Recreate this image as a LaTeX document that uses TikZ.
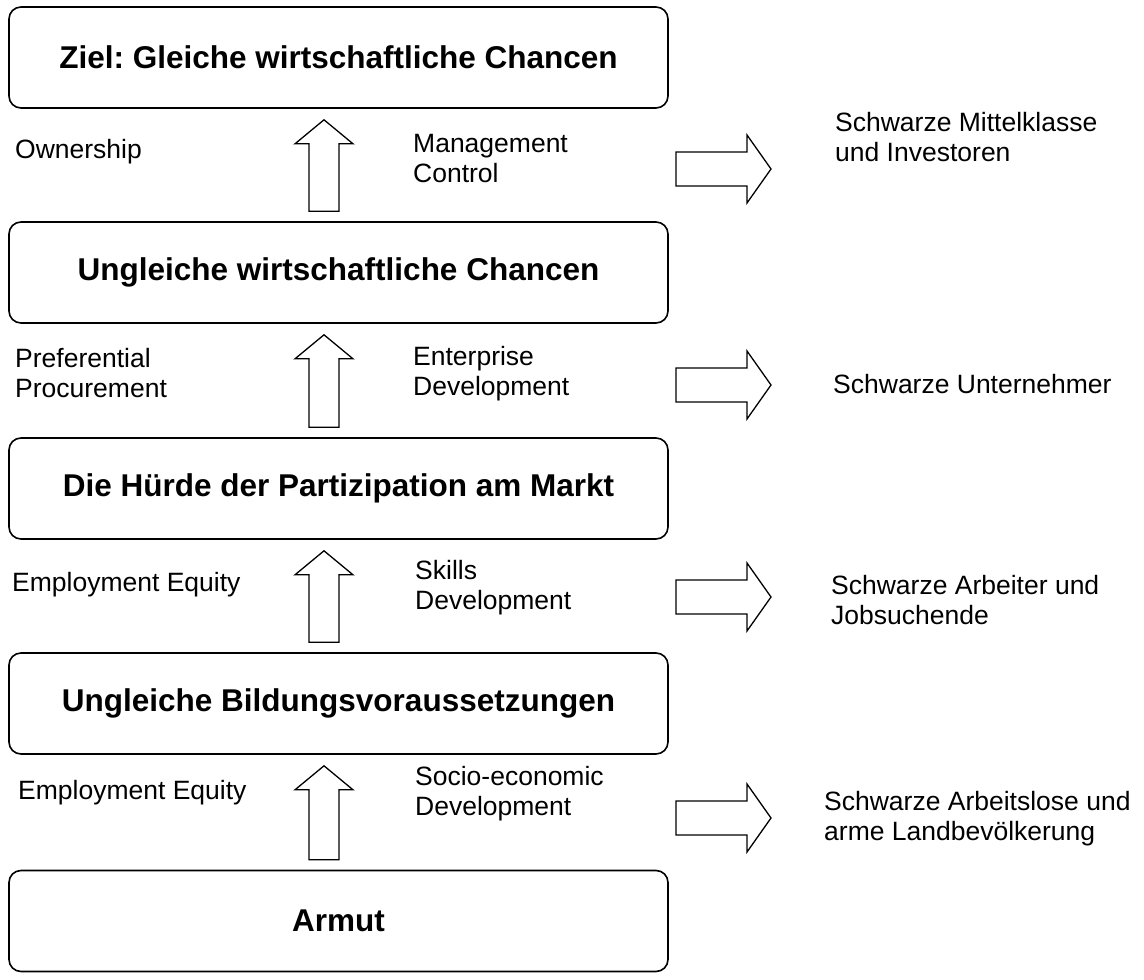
\documentclass[tikz,border=0pt]{standalone}
\usepackage{fontspec}
\setmainfont{Liberation Sans}
\frenchspacing
\usetikzlibrary{calc}
\begin{document}
\begin{tikzpicture}[x=1pt,y=-1pt,
  stage/.style={draw, line width=1.6pt, rounded corners=12pt, minimum width=659pt,
    minimum height=101pt, inner sep=0pt, font=\fontsize{31.5}{36}\selectfont\bfseries},
  lbl/.style={anchor=base west, align=left, inner sep=0pt, font=\fontsize{26.5}{30}\selectfont},
  blockarrow/.style={draw, line width=1.3pt, line join=miter, fill=white}]
\useasboundingbox[fill=white] (0,0) rectangle (1144,980);

% stage boxes
\node[stage] (b1) at (338.5,57.5) {Ziel: Gleiche wirtschaftliche Chancen};
\node[stage] (b2) at (338.5,272.5) {Ungleiche wirtschaftliche Chancen};
\node[stage] (b3) at (338.5,488.5) {Die Hürde der Partizipation am Markt};
\node[stage] (b4) at (338.5,703.5) {Ungleiche Bildungsvoraussetzungen};
\node[stage] (b5) at (338.5,921) {Armut};

% upward block arrows
\foreach \a/\b in {b2/b1, b3/b2, b4/b3, b5/b4} {
  \draw[blockarrow] let \p1=($(\b.south)+(-14.5,11)$), \p2=($(\a.north)+(-14.5,-10)$) in
    (\x2-15pt,\y2) -- (\x2-15pt,\y1-24pt) -- (\x1-29pt,\y1-24pt) -- (\x1,\y1)
    -- (\x1+29pt,\y1-24pt) -- (\x1+15pt,\y1-24pt) -- (\x2+15pt,\y2) -- cycle;
}

% rightward block arrows
\coordinate (r1) at (676,169);
\coordinate (r2) at (676,385);
\coordinate (r3) at (676,597);
\coordinate (r4) at (676,818);
\foreach \r in {r1,r2,r3,r4} {
  \draw[blockarrow] (\r) ++(0,-17) -- ++(71,0) -- ++(0,-17) -- ++(24,34)
    -- ++(-24,34) -- ++(0,-17) -- ++(-71,0) -- cycle;
}

% row 1 labels (anchor = baseline of last line)
\node[lbl] (l1) at (15,158) {Ownership};
\node[lbl] (m1) at (413,182) {Management\\Control};
\node[lbl] (g1) at (835,161) {Schwarze Mittelklasse\\und Investoren};

% row 2 labels
\node[lbl] (l2) at (15,397) {Preferential\\Procurement};
\node[lbl] (m2) at (413,395) {Enterprise\\Development};
\node[lbl] (g2) at (833,393) {Schwarze Unternehmer};

% row 3 labels
\node[lbl] (l3) at (12,591) {Employment Equity};
\node[lbl] (m3) at (415,609) {Skills\\Development};
\node[lbl] (g3) at (831,624) {Schwarze Arbeiter und\\Jobsuchende};

% row 4 labels
\node[lbl] (l4) at (18,799) {Employment Equity};
\node[lbl] (m4) at (415,815) {Socio-economic\\Development};
\node[lbl] (g4) at (824,840) {Schwarze Arbeitslose und\\arme Landbevölkerung};
\end{tikzpicture}
\end{document}
